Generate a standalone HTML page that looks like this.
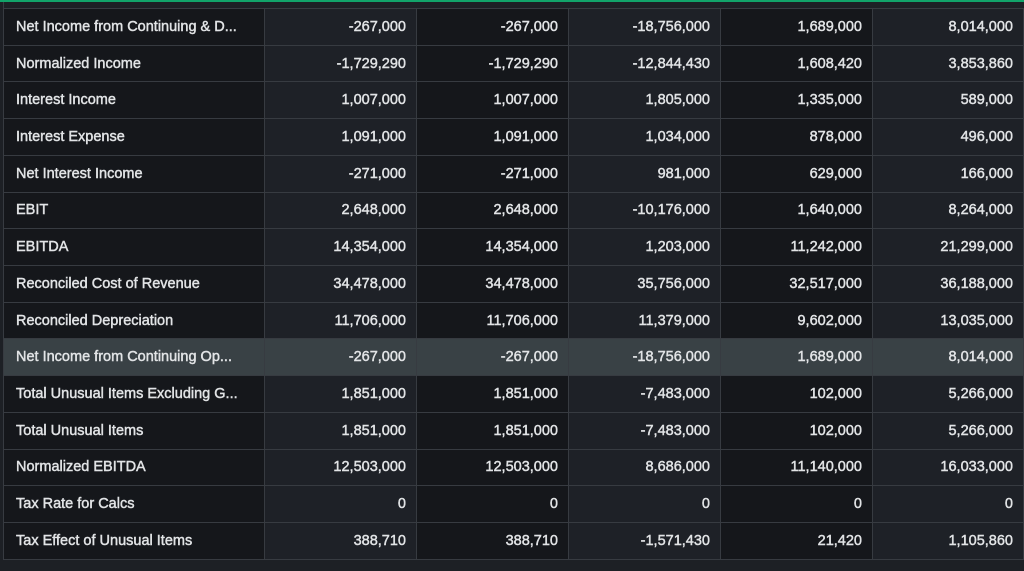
<!DOCTYPE html>
<html><head><style>
body{margin:0;width:1024px;height:571px;background:#1d2025;overflow:hidden;font-family:"Liberation Sans",sans-serif;}
.top{position:absolute;left:0;top:0;width:1024px;height:2px;background:#12a46a;}
table{position:absolute;left:3px;top:8px;border-collapse:collapse;}
td{height:36.73px;padding:0 10px;border:1px solid #373b41;color:#e2e4e6;font-size:14.5px;font-weight:normal;text-align:right;white-space:nowrap;box-sizing:border-box;-webkit-text-stroke:0.45px #e2e4e6;}
td:nth-child(1){width:261px;text-align:left;padding-left:12px;background:#15171b;}
td:nth-child(2){width:152px;background:#1e2127;}
td:nth-child(3){width:152px;background:#15171b;}
td:nth-child(4){width:152px;background:#1e2127;}
td:nth-child(5){width:152px;background:#15171b;}
td:nth-child(6){width:151px;background:#1e2127;}
tr.hl td{background:#394145;}
.pre{position:absolute;left:3px;top:0;width:1019px;height:8px;border-left:1px solid #373b41;}
</style></head><body>
<div class="pre"></div>
<div class="top"></div>
<table>
<tr><td>Net Income from Continuing &amp; D...</td><td>-267,000</td><td>-267,000</td><td>-18,756,000</td><td>1,689,000</td><td>8,014,000</td></tr>
<tr><td>Normalized Income</td><td>-1,729,290</td><td>-1,729,290</td><td>-12,844,430</td><td>1,608,420</td><td>3,853,860</td></tr>
<tr><td>Interest Income</td><td>1,007,000</td><td>1,007,000</td><td>1,805,000</td><td>1,335,000</td><td>589,000</td></tr>
<tr><td>Interest Expense</td><td>1,091,000</td><td>1,091,000</td><td>1,034,000</td><td>878,000</td><td>496,000</td></tr>
<tr><td>Net Interest Income</td><td>-271,000</td><td>-271,000</td><td>981,000</td><td>629,000</td><td>166,000</td></tr>
<tr><td>EBIT</td><td>2,648,000</td><td>2,648,000</td><td>-10,176,000</td><td>1,640,000</td><td>8,264,000</td></tr>
<tr><td>EBITDA</td><td>14,354,000</td><td>14,354,000</td><td>1,203,000</td><td>11,242,000</td><td>21,299,000</td></tr>
<tr><td>Reconciled Cost of Revenue</td><td>34,478,000</td><td>34,478,000</td><td>35,756,000</td><td>32,517,000</td><td>36,188,000</td></tr>
<tr><td>Reconciled Depreciation</td><td>11,706,000</td><td>11,706,000</td><td>11,379,000</td><td>9,602,000</td><td>13,035,000</td></tr>
<tr class="hl"><td>Net Income from Continuing Op...</td><td>-267,000</td><td>-267,000</td><td>-18,756,000</td><td>1,689,000</td><td>8,014,000</td></tr>
<tr><td>Total Unusual Items Excluding G...</td><td>1,851,000</td><td>1,851,000</td><td>-7,483,000</td><td>102,000</td><td>5,266,000</td></tr>
<tr><td>Total Unusual Items</td><td>1,851,000</td><td>1,851,000</td><td>-7,483,000</td><td>102,000</td><td>5,266,000</td></tr>
<tr><td>Normalized EBITDA</td><td>12,503,000</td><td>12,503,000</td><td>8,686,000</td><td>11,140,000</td><td>16,033,000</td></tr>
<tr><td>Tax Rate for Calcs</td><td>0</td><td>0</td><td>0</td><td>0</td><td>0</td></tr>
<tr><td>Tax Effect of Unusual Items</td><td>388,710</td><td>388,710</td><td>-1,571,430</td><td>21,420</td><td>1,105,860</td></tr>
</table>
</body></html>
